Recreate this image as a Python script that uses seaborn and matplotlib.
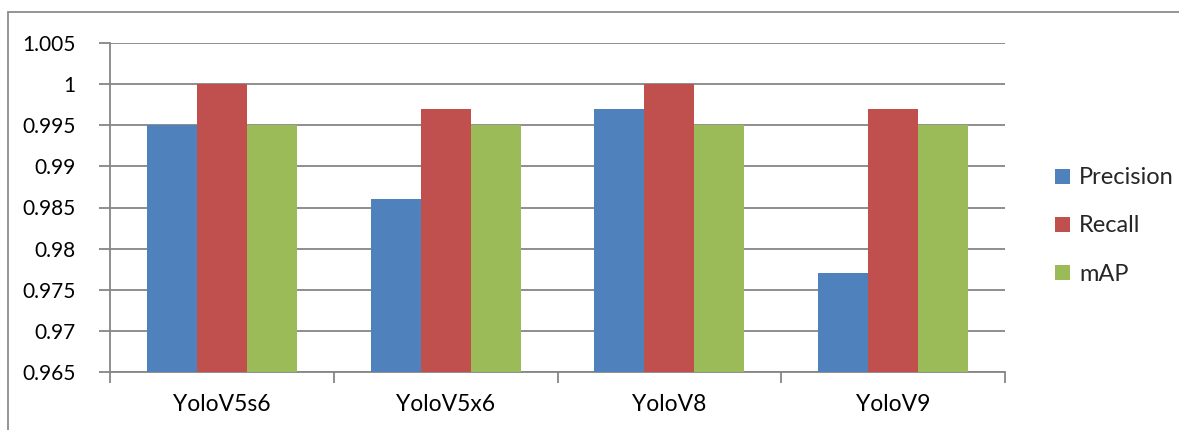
import matplotlib
matplotlib.use("Agg")
import matplotlib.pyplot as plt
import seaborn as sns
import pandas as pd
from matplotlib.patches import Patch
from matplotlib.lines import Line2D

models = ["YoloV5s6", "YoloV5x6", "YoloV8", "YoloV9"]
precision = [0.995, 0.986, 0.997, 0.977]
recall = [1.0, 0.997, 1.0, 0.997]
mAP = [0.995, 0.995, 0.995, 0.995]
series_names = ["Precision", "Recall", "mAP"]
colors = ["#4F81BD", "#C0504D", "#9BBB59"]
yticks = [0.965, 0.97, 0.975, 0.98, 0.985, 0.99, 0.995, 1.0, 1.005]
ytick_labels = ["0.965", "0.97", "0.975", "0.98", "0.985", "0.99", "0.995", "1", "1.005"]

rows = []
for i, m in enumerate(models):
    for name, vals in zip(series_names, [precision, recall, mAP]):
        rows.append({"Model": m, "Metric": name, "Value": vals[i]})
df = pd.DataFrame(rows)

sns.set_theme(style="white")
plt.rcParams['font.family'] = ['Lato', 'DejaVu Sans']

fig = plt.figure(figsize=(11.79, 4.30), dpi=100)
ax = fig.add_axes([110/1179, 1 - 372/430, (1005-110)/1179, (372-43)/430])

sns.barplot(data=df, x="Model", y="Value", hue="Metric", order=models,
            hue_order=series_names, palette=colors, width=0.67, gap=0,
            saturation=1, ax=ax, legend=False, errorbar=None, zorder=3)
for p in ax.patches:
    p.set_edgecolor("none")

ax.set_ylim(0.965, 1.005)
ax.set_xlim(-0.5, 3.5)
ax.set_yticks(yticks)
ax.set_yticklabels(ytick_labels)
ax.yaxis.grid(True, color="#868686", linewidth=1.3, zorder=0)
ax.set_axisbelow(True)
ax.set_xlabel("")
ax.set_ylabel("")
for s in ["top", "right"]:
    ax.spines[s].set_visible(False)
for s in ["left", "bottom"]:
    ax.spines[s].set_color("#868686")
    ax.spines[s].set_linewidth(1.3)

ax.tick_params(axis="y", length=8, width=1.3, color="#868686", direction="out",
               pad=17, labelsize=15, labelcolor="black", left=True)
ax.tick_params(axis="x", which="major", length=0, pad=16, labelsize=16.5, labelcolor="black")
ax.set_xticks([-0.5, 0.5, 1.5, 2.5, 3.5], minor=True)
ax.tick_params(axis="x", which="minor", length=8, width=1.3, color="#868686",
               direction="out", bottom=True)

handles = [Patch(facecolor=c, edgecolor="none") for c in colors]
leg = fig.legend(handles, series_names, loc="center left",
                 bbox_to_anchor=(1046/1179, 1 - 226/430), frameon=False,
                 fontsize=17, handlelength=0.6, handleheight=0.6,
                 handletextpad=0.4, labelspacing=1.15, borderaxespad=0)

# outer chart border (top and left visible)
fig.add_artist(Line2D([8/1179, 1.0], [1 - 12/430, 1 - 12/430], color="#8c8c8c", linewidth=1.3))
fig.add_artist(Line2D([8/1179, 8/1179], [0.0, 1 - 12/430], color="#8c8c8c", linewidth=1.3))

fig.savefig("out.png", dpi=100, facecolor="white")
